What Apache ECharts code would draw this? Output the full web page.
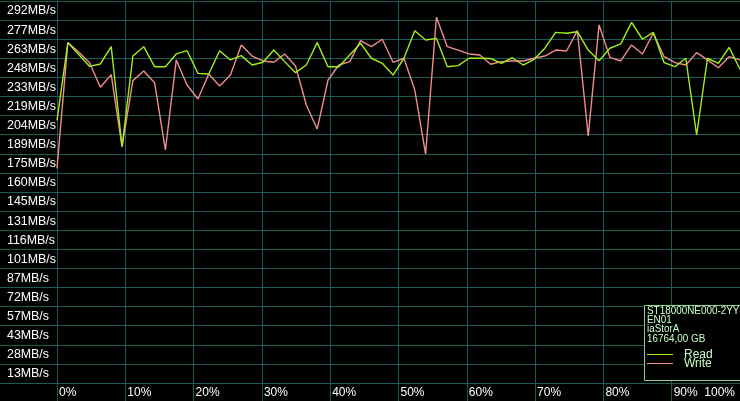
<!DOCTYPE html>
<html>
<head>
<meta charset="utf-8">
<script src="https://cdn.jsdelivr.net/npm/echarts@6/dist/echarts.min.js"></script>
<style>
html,body{margin:0;padding:0;background:#000;}
#chart{width:740px;height:401px;}
</style>
</head>
<body>
<div id="chart"></div>
<script>
// ---- data (MB/s), 64 samples spread evenly over 0..100 % of the disk ----
const readMBs = [201.8,261.6,252.5,243.4,245.2,258.6,181.6,251.3,258.5,243.1,
  243.1,252.9,255.4,238.0,237.5,255.4,248.3,251.6,244.4,246.5,
  255.9,247.0,238.5,244.4,261.6,243.1,243.1,252.1,261.1,249.6,
  245.7,236.7,249.6,270.8,263.6,264.9,243.1,243.9,249.6,249.6,
  249.4,245.7,250.0,244.4,248.8,257.3,269.5,268.8,270.0,255.9,
  247.7,257.3,260.6,277.2,264.2,269.5,246.2,243.1,249.6,190.6,
  249.6,245.7,258.0,241.1];
const writeMBs = [165.0,261.6,254.4,246.2,227.3,237.0,181.6,232.4,239.8,230.8,
  179.1,248.3,229.0,218.3,237.5,228.3,236.7,259.8,251.3,247.5,
  246.5,252.9,243.6,213.7,195.2,232.9,244.4,247.0,263.1,258.5,
  264.2,246.5,249.6,225.2,176.0,281.1,258.5,255.9,252.9,252.1,
  245.0,247.0,247.5,247.5,249.6,251.3,255.9,255.2,270.8,189.8,
  275.2,250.3,247.5,259.8,252.9,268.8,250.8,246.2,244.4,253.9,
  248.3,242.3,250.8,248.3];
const yTickLabels = ['13MB/s','28MB/s','43MB/s','57MB/s','72MB/s','87MB/s','101MB/s','116MB/s',
  '131MB/s','145MB/s','160MB/s','175MB/s','189MB/s','204MB/s','219MB/s','233MB/s',
  '248MB/s','263MB/s','277MB/s','292MB/s'];
const xTickLabels = ['0%','10%','20%','30%','40%','50%','60%','70%','80%','90%','100%'];
const seriesNames = ['Read','Write'];
const driveInfo = ['ST18000NE000-2YY','EN01','iaStorA','16764,00 GB'];

// ---- build ----
const Y_STEP = 14.68;
const N = readMBs.length;
const pct = i => i * 100 / (N - 1);
const toPairs = arr => arr.map((v, i) => [pct(i), v]);

const GRID = '#1a5a57';
const READ_C = '#a0f018';
const WRITE_C = '#f28c8c';
const TXT = '#c8ffc8';

const chart = echarts.init(document.getElementById('chart'), null, {renderer: 'canvas'});
chart.setOption({
  backgroundColor: '#000',
  animation: false,
  grid: {left: 57, right: -1, top: 1, bottom: 18, containLabel: false},
  xAxis: {
    type: 'value', min: 0, max: 100, interval: 10,
    axisLine: {show: true, lineStyle: {color: GRID, width: 1}},
    axisTick: {show: true, length: 18, lineStyle: {color: GRID, width: 1}},
    splitLine: {show: true, lineStyle: {color: GRID, width: 1}},
    axisLabel: {
      color: '#fff', fontFamily: 'Liberation Sans, Arial, sans-serif', fontSize: 12,
      align: 'left', margin: 4, padding: [0, 0, 0, 2],
      showMaxLabel: true, showMinLabel: true, alignMaxLabel: 'right',
      formatter: v => {
        const k = Math.round(v / 10);
        return k === 10 ? '{r|' + xTickLabels[k] + '}' : xTickLabels[k];
      },
      rich: {r: {color: '#fff', fontFamily: 'Liberation Sans, Arial, sans-serif', fontSize: 12, padding: [0, 5, 0, 0]}}
    }
  },
  yAxis: {
    type: 'value', min: 0, max: Y_STEP * 20, interval: Y_STEP,
    axisLine: {show: true, lineStyle: {color: GRID, width: 1}},
    axisTick: {show: true, length: 57, lineStyle: {color: GRID, width: 1}},
    splitLine: {show: true, lineStyle: {color: GRID, width: 1}},
    axisLabel: {
      color: '#fff', fontFamily: 'Liberation Sans, Arial, sans-serif', fontSize: 12.4,
      align: 'left', verticalAlign: 'top', margin: 50, padding: [4, 0, 0, 0],
      showMaxLabel: true, showMinLabel: true,
      formatter: v => {
        const k = Math.round(v / Y_STEP);
        return k >= 1 ? yTickLabels[k - 1] : '';
      }
    }
  },
  series: [
    {name: seriesNames[1], type: 'line', data: toPairs(writeMBs), symbol: 'none',
     lineStyle: {color: WRITE_C, width: 1.4}, itemStyle: {color: WRITE_C}, z: 2},
    {name: seriesNames[0], type: 'line', data: toPairs(readMBs), symbol: 'none',
     lineStyle: {color: READ_C, width: 1.4}, itemStyle: {color: READ_C}, z: 3}
  ],
  graphic: [
    {type: 'rect', shape: {x: 644.5, y: 305.5, width: 100, height: 75}, z: 100,
     style: {fill: '#000', stroke: '#8fd08f', lineWidth: 1}},
    {type: 'text', x: 647, y: 306, z: 101, scaleX: 0.86, originX: 0, originY: 0,
     style: {text: driveInfo.join('\n'), fill: TXT, font: '11.5px "Liberation Sans", Arial, sans-serif',
             lineHeight: 9.3, verticalAlign: 'top'}},
    {type: 'line', z: 101, shape: {x1: 647, y1: 354.5, x2: 673, y2: 354.5}, style: {stroke: READ_C, lineWidth: 1}},
    {type: 'line', z: 101, shape: {x1: 647, y1: 363.5, x2: 673, y2: 363.5}, style: {stroke: WRITE_C, lineWidth: 1}},
    {type: 'text', x: 684, y: 354.5, z: 101,
     style: {text: seriesNames[0], fill: TXT, font: '12px "Liberation Sans", Arial, sans-serif', verticalAlign: 'middle'}},
    {type: 'text', x: 684, y: 364, z: 101,
     style: {text: seriesNames[1], fill: TXT, font: '12px "Liberation Sans", Arial, sans-serif', verticalAlign: 'middle'}}
  ]
});
</script>
</body>
</html>
